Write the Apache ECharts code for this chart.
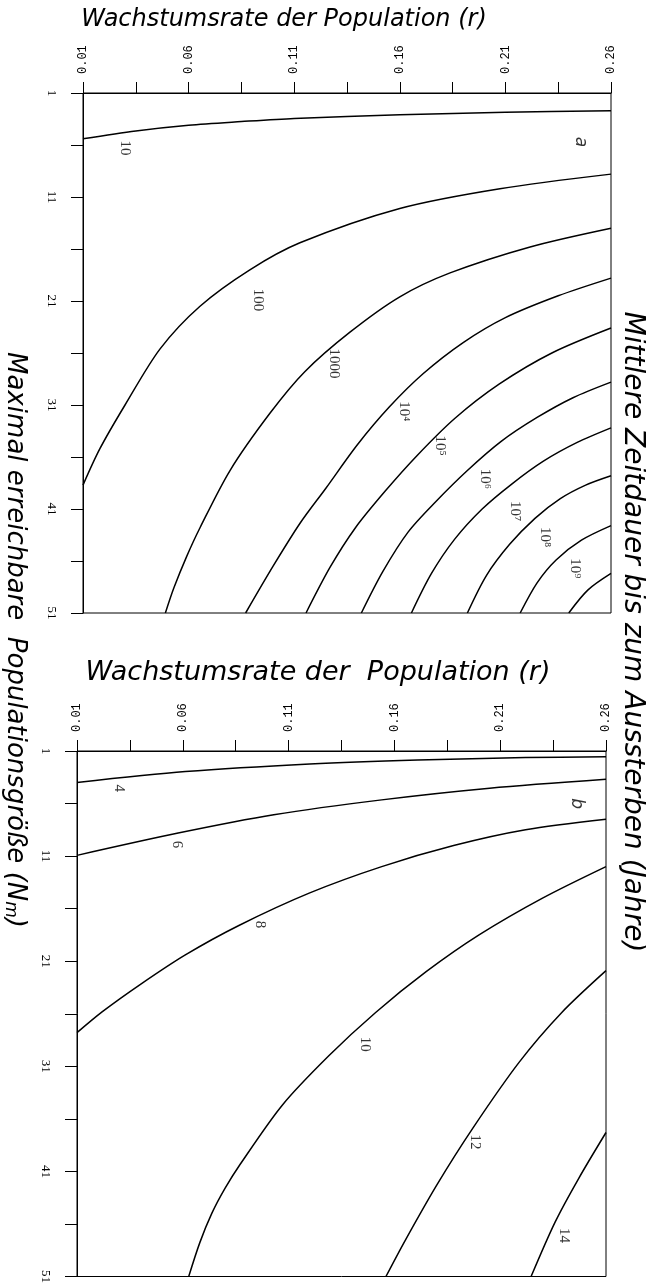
<!DOCTYPE html>
<html>
<head>
<meta charset="utf-8">
<script src="https://cdn.jsdelivr.net/npm/echarts@6/dist/echarts.min.js"></script>
<style>
html, body { margin: 0; padding: 0; background: #fff; }
#chart { width: 646px; height: 1286px; }
</style>
</head>
<body>
<div id="chart"></div>
<script>
// Panel a: lines of equal mean time to extinction, points are [r, Nm]
const a_t1 = [[0.01, 5.4], [0.035, 4.65], [0.06, 4.1], [0.085, 3.75], [0.11, 3.45], [0.16, 3.1], [0.21, 2.85], [0.26, 2.7]]
const a_t2 = [[0.01, 38.7], [0.018, 35.2], [0.0299, 31.0], [0.0465, 25.6], [0.0654, 21.5], [0.089, 18.0], [0.1127, 15.4], [0.16, 12.1], [0.2074, 10.2], [0.26, 8.8]]
const a_t3 = [[0.049, 51], [0.053, 48.6], [0.059, 45.6], [0.0654, 42.8], [0.0796, 37.3], [0.0985, 31.8], [0.115, 27.8], [0.1364, 24.0], [0.16, 20.6], [0.1838, 18.3], [0.2217, 15.8], [0.26, 14.0]]
const a_t4 = [[0.087, 51], [0.10, 46.5], [0.113, 42.3], [0.125, 39.0], [0.14, 34.8], [0.155, 31.2], [0.171, 28.0], [0.19, 25.0], [0.21, 22.6], [0.235, 20.5], [0.26, 18.8]]
const a_t5 = [[0.1156, 51], [0.127, 46.6], [0.139, 42.8], [0.153, 39.3], [0.168, 35.9], [0.186, 32.3], [0.207, 29.0], [0.232, 26.0], [0.26, 23.6]]
const a_t6 = [[0.1418, 51], [0.152, 47.0], [0.164, 43.2], [0.177, 40.3], [0.192, 37.3], [0.208, 34.5], [0.225, 32.2], [0.242, 30.3], [0.26, 28.8]]
const a_t7 = [[0.1655, 51], [0.175, 47.2], [0.186, 43.9], [0.199, 41.0], [0.213, 38.6], [0.228, 36.4], [0.244, 34.6], [0.26, 33.2]]
const a_t8 = [[0.192, 51], [0.201, 47.4], [0.212, 44.4], [0.224, 41.9], [0.236, 40.0], [0.248, 38.7], [0.26, 37.8]]
const a_t9 = [[0.217, 51], [0.225, 48.1], [0.234, 45.9], [0.246, 44.0], [0.26, 42.6]]
const a_t10 = [[0.24, 51], [0.249, 48.8], [0.26, 47.2]]

// Panel b
const b_t4 = [[0.01, 4.0], [0.0612, 2.96], [0.12, 2.23], [0.171, 1.85], [0.222, 1.63], [0.26, 1.54]]
const b_t6 = [[0.01, 10.93], [0.0578, 8.81], [0.103, 7.07], [0.154, 5.65], [0.205, 4.54], [0.26, 3.69]]
const b_t8 = [[0.01, 27.8], [0.022, 25.8], [0.04, 23.2], [0.0612, 20.4], [0.0865, 17.6], [0.12, 14.5], [0.154, 12.0], [0.188, 10.0], [0.222, 8.5], [0.26, 7.5]]
const b_t10 = [[0.0628, 51], [0.068, 47.8], [0.0737, 45.0], [0.08, 42.6], [0.0872, 40.3], [0.107, 34.7], [0.129, 30.0], [0.151, 25.9], [0.175, 22.0], [0.2, 18.5], [0.23, 15.0], [0.26, 12.0]]
const b_t12 = [[0.156, 51], [0.165, 47.6], [0.18, 42.3], [0.197, 36.9], [0.219, 30.6], [0.239, 25.9], [0.26, 21.9]]
const b_t14 = [[0.2246, 51], [0.236, 45.8], [0.247, 41.7], [0.26, 37.3]]

// contour labels [r, Nm, text]
const a_labels = [[0.0299, 6.3, '10'], [0.093, 20.9, '100'], [0.129, 27.0, '1000'], [0.162, 31.6, '10⁴'],
  [0.179, 34.9, '10⁵'], [0.2003, 38.1, '10⁶'], [0.2145, 41.2, '10⁷'], [0.2288, 43.7, '10⁸'], [0.243, 46.7, '10⁹']]
const b_labels = [[0.03, 4.54, '4'], [0.057, 9.9, '6'], [0.0965, 17.5, '8'], [0.146, 28.9, '10'], [0.198, 38.2, '12'], [0.24, 47.1, '14']]
const panel_letters = [[0.2456, 5.7, 'a'], [0.246, 6.0, 'b']]

const a_lines = [a_t1, a_t2, a_t3, a_t4, a_t5, a_t6, a_t7, a_t8, a_t9, a_t10]
const b_lines = [b_t4, b_t6, b_t8, b_t10, b_t12, b_t14]

const black = '#000'
const serif = '"Liberation Serif", "DejaVu Serif", serif'
const iso = '"DejaVu Sans", sans-serif'

function lineSerie(data, idx) {
  return {
    type: 'line',
    xAxisIndex: idx,
    yAxisIndex: idx,
    data: data,
    symbol: 'none',
    smooth: 0.3,
    lineStyle: { color: black, width: 1.5 },
    silent: true,
  }
}

function labelSerie(labels, letter, idx) {
  const data = labels.map(l => ({ value: [l[0], l[1]], name: l[2] }))
  data.push({
    value: [letter[0], letter[1]],
    name: letter[2],
    label: { fontFamily: iso, fontStyle: 'italic', fontSize: 17 },
  })
  return {
    type: 'scatter',
    xAxisIndex: idx,
    yAxisIndex: idx,
    symbolSize: 0,
    data: data,
    silent: true,
    label: {
      show: true,
      position: 'inside',
      rotate: -90,
      formatter: p => p.name,
      fontFamily: serif,
      fontSize: 15,
      color: black,
    },
  }
}

const series = []
a_lines.forEach(d => series.push(lineSerie(d, 0)))
b_lines.forEach(d => series.push(lineSerie(d, 1)))
series.push(labelSerie(a_labels, panel_letters[0], 0))
series.push(labelSerie(b_labels, panel_letters[1], 1))

function rAxis(i) {
  return {
    type: 'value',
    gridIndex: i,
    position: 'top',
    min: 0.01,
    max: 0.26,
    interval: 0.05,
    axisLine: { onZero: false, lineStyle: { color: black, width: 1 } },
    axisTick: { length: 11, lineStyle: { color: black, width: 1 } },
    minorTick: { show: true, splitNumber: 2, length: 11, lineStyle: { color: black, width: 1 } },
    splitLine: { show: false },
    axisLabel: {
      rotate: -90, margin: 19, color: black,
      fontFamily: '"Liberation Mono", monospace', fontSize: 12,
      formatter: v => v.toFixed(2),
    },
  }
}

function nAxis(i) {
  return {
    type: 'value',
    gridIndex: i,
    position: 'left',
    inverse: true,
    min: 1,
    max: 51,
    interval: 10,
    axisLine: { onZero: false, lineStyle: { color: black, width: 1 } },
    axisTick: { length: 12, lineStyle: { color: black, width: 1 } },
    minorTick: { show: true, splitNumber: 2, length: 12, lineStyle: { color: black, width: 1 } },
    splitLine: { show: false },
    axisLabel: { rotate: -90, margin: 25, color: black, fontFamily: serif, fontSize: 13 },
  }
}

const chart = echarts.init(document.getElementById('chart'))
chart.setOption({
  backgroundColor: '#fff',
  animation: false,
  grid: [
    { left: 83, top: 93, width: 528, height: 520, show: true, borderColor: black, borderWidth: 1 },
    { left: 77, top: 751, width: 529, height: 527, show: true, borderColor: black, borderWidth: 1 },
  ],
  xAxis: [rAxis(0), rAxis(1)],
  yAxis: [nAxis(0), nAxis(1)],
  series: series,
  graphic: [
    {
      type: 'text', x: 284, y: 20,
      style: { text: 'Wachstumsrate der Population (r)', font: 'italic 24px ' + iso, fill: black, textAlign: 'center', textVerticalAlign: 'middle' },
    },
    {
      type: 'text', x: 318, y: 673,
      style: { text: 'Wachstumsrate der  Population (r)', font: 'italic 27px ' + iso, fill: black, textAlign: 'center', textVerticalAlign: 'middle' },
    },
    {
      type: 'text', x: 15, y: 640, rotation: -Math.PI / 2,
      style: {
        text: '{t|Maximal erreichbare  Populationsgröße (N}{s|m}{t|)}',
        textAlign: 'center', textVerticalAlign: 'middle', fill: black,
        rich: {
          t: { font: 'italic 26px ' + iso, fill: black },
          s: { font: 'italic 17px ' + iso, fill: black, padding: [10, 0, 0, 0] },
        },
      },
    },
    {
      type: 'text', x: 632, y: 632, rotation: -Math.PI / 2,
      style: { text: 'Mittlere Zeitdauer bis zum Aussterben (Jahre)', font: 'italic 28px ' + iso, fill: black, textAlign: 'center', textVerticalAlign: 'middle' },
    },
  ],
})
</script>
</body>
</html>
